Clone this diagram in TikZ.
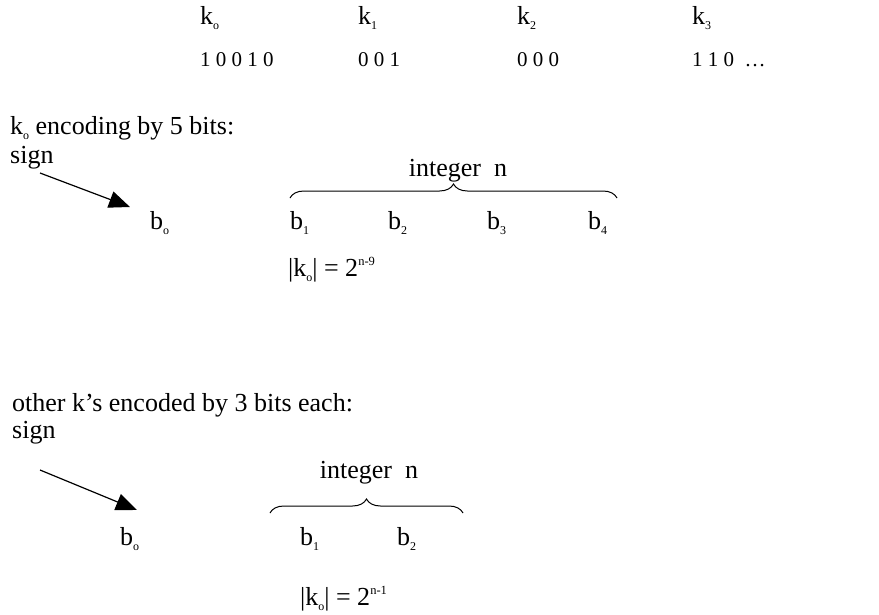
\documentclass[tikz,border=0pt]{standalone}
\usepackage{fontspec}
\setmainfont{Liberation Serif}
\usetikzlibrary{arrows.meta,decorations.pathreplacing}
\newcommand{\lowsub}[1]{\raisebox{-5pt}{\fontsize{12}{12}\selectfont #1}}
\newcommand{\highsup}[1]{\raisebox{11pt}{\fontsize{12.5}{12.5}\selectfont #1}}
\begin{document}
\begin{tikzpicture}[x=1pt,y=-1pt,
  txt/.style={anchor=base west,inner sep=0pt,font=\fontsize{26}{26}\selectfont},
  numtxt/.style={anchor=base west,inner sep=0pt,font=\fontsize{21}{21}\selectfont},
  ctxt/.style={anchor=base,inner sep=0pt,font=\fontsize{26}{26}\selectfont},
  signarrow/.style={line width=1.2pt,-{Triangle[length=21pt,width=17pt]}},
  bracedeco/.style={line width=1pt,decorate,decoration={brace,amplitude=14pt}}]
\useasboundingbox (0,0) rectangle (879,614);
% top rows
\node[txt] (k0) at (200,24) {k\lowsub{o}};
\node[txt] (k1) at (358,24) {k\lowsub{1}};
\node[txt] (k2) at (517,24) {k\lowsub{2}};
\node[txt] (k3) at (692,24) {k\lowsub{3}};
\node[numtxt] (v0) at (200,66) {1 0 0 1 0};
\node[numtxt] (v1) at (358,66) {0 0 1};
\node[numtxt] (v2) at (517,66) {0 0 0};
\node[numtxt] (v3) at (692,66) {1 1 0 \ …};
% section 1
\node[txt] (h1) at (10,134) {k\lowsub{o} encoding by 5 bits:};
\node[txt] (s1) at (10,163) {sign};
\coordinate (a1s) at (40,173);
\coordinate (a1e) at (130,207);
\draw[signarrow] (a1s) -- (a1e);
\node[txt] (b0a) at (150,229) {b\lowsub{o}};
\node[txt] (b1a) at (290,229) {b\lowsub{1}};
\node[txt] (b2a) at (388,229) {b\lowsub{2}};
\node[txt] (b3a) at (487,229) {b\lowsub{3}};
\node[txt] (b4a) at (588,229) {b\lowsub{4}};
\coordinate (br1l) at (290,198);
\coordinate (br1r) at (617,198);
\draw[bracedeco] (br1l) -- (br1r);
\node[ctxt] (int1) at (458,176) {integer \ n};
\node[txt] (f1) at (288,276) {|k\lowsub{o}| = 2\highsup{n-9}};
% section 2
\node[txt] (h2) at (12,411) {other k’s encoded by 3 bits each:};
\node[txt] (s2) at (12,438) {sign};
\coordinate (a2s) at (40,470);
\coordinate (a2e) at (137,510);
\draw[signarrow] (a2s) -- (a2e);
\node[txt] (b0b) at (120,545) {b\lowsub{o}};
\node[txt] (b1b) at (300,545) {b\lowsub{1}};
\node[txt] (b2b) at (397,545) {b\lowsub{2}};
\coordinate (br2l) at (270,513);
\coordinate (br2r) at (463,513);
\draw[bracedeco] (br2l) -- (br2r);
\node[ctxt] (int2) at (369,478) {integer \ n};
\node[txt] (f2) at (300,605) {|k\lowsub{o}| = 2\highsup{n-1}};
\end{tikzpicture}
\end{document}
